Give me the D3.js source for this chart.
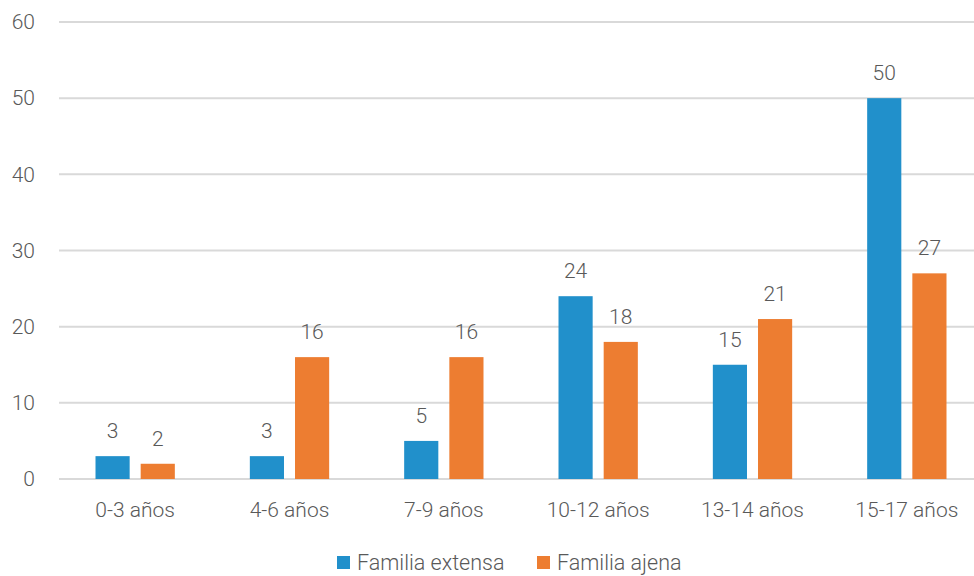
<!DOCTYPE html>
<html><head><meta charset="utf-8">
<script src="https://cdn.jsdelivr.net/npm/d3@7"></script>
<style>body{margin:0;background:#fff}svg{display:block}text{font-family:Roboto,"Noto Sans",sans-serif;font-weight:300;fill:#595959}</style>
</head><body>
<script>
const categories = ["0-3 años","4-6 años","7-9 años","10-12 años","13-14 años","15-17 años"];
const seriesNames = ["Familia extensa","Familia ajena"];
const extensa = [3,3,5,24,15,50];
const ajena = [2,16,16,18,21,27];
const yTicks = [0,10,20,30,40,50,60];
const colors = ["#2190CB","#ED7D31"];

const W = 974, H = 576;
const svg = d3.select("body").append("svg").attr("width",W).attr("height",H);
const y = d3.scaleLinear().domain([0,60]).range([479,22]);
const x0 = d3.scaleBand().domain(categories).range([58,984]).paddingInner(0.486).paddingOuter(0.243);
const x1 = d3.scaleBand().domain(seriesNames).range([0,x0.bandwidth()]).paddingInner(0.244).paddingOuter(0);

// gridlines
svg.append("g").selectAll("line").data(yTicks).join("line")
  .attr("x1",59).attr("x2",W).attr("y1",d=>y(d)).attr("y2",d=>y(d))
  .attr("stroke","#d9d9d9").attr("stroke-width",2);

// y axis labels
const yAxis = d3.axisLeft(y).tickValues(yTicks).tickSize(0).tickPadding(0);
const ga = svg.append("g").attr("transform","translate(35,0)").call(yAxis);
ga.select(".domain").remove();
ga.selectAll("text").attr("font-size",21).attr("fill","#595959").style("font-family","Roboto,sans-serif").style("font-weight",300);

const data = categories.map((c,i)=>({cat:c, vals:[extensa[i],ajena[i]]}));
const groups = svg.append("g").selectAll("g").data(data).join("g")
  .attr("transform",d=>`translate(${x0(d.cat)},0)`);
groups.selectAll("rect").data(d=>d.vals.map((v,j)=>({s:seriesNames[j],v,j}))).join("rect")
  .attr("x",d=>x1(d.s)).attr("width",x1.bandwidth())
  .attr("y",d=>y(d.v)).attr("height",d=>y(0)-y(d.v))
  .attr("fill",d=>colors[d.j]);
groups.selectAll("text").data(d=>d.vals.map((v,j)=>({s:seriesNames[j],v,j}))).join("text")
  .attr("x",d=>x1(d.s)+x1.bandwidth()/2).attr("y",d=>y(d.v)-18)
  .attr("text-anchor","middle").attr("font-size",21).text(d=>d.v);

// x labels
const xAxis = d3.axisBottom(x0).tickSize(0).tickPadding(0);
const gx = svg.append("g").attr("transform","translate(0,502)").call(xAxis);
gx.select(".domain").remove();
gx.selectAll("text").attr("font-size",21).attr("fill","#595959").attr("dy","0.71em").style("font-family","Roboto,sans-serif").style("font-weight",300);

// legend
const legX = [337,537];
const leg = svg.append("g").selectAll("g").data(seriesNames).join("g")
  .attr("transform",(d,i)=>`translate(${legX[i]},0)`);
leg.append("rect").attr("x",0).attr("y",556).attr("width",13).attr("height",13).attr("fill",(d,i)=>colors[i]);
leg.append("text").attr("x",20).attr("y",570).attr("font-size",21.5).text(d=>d);
</script>
</body></html>
